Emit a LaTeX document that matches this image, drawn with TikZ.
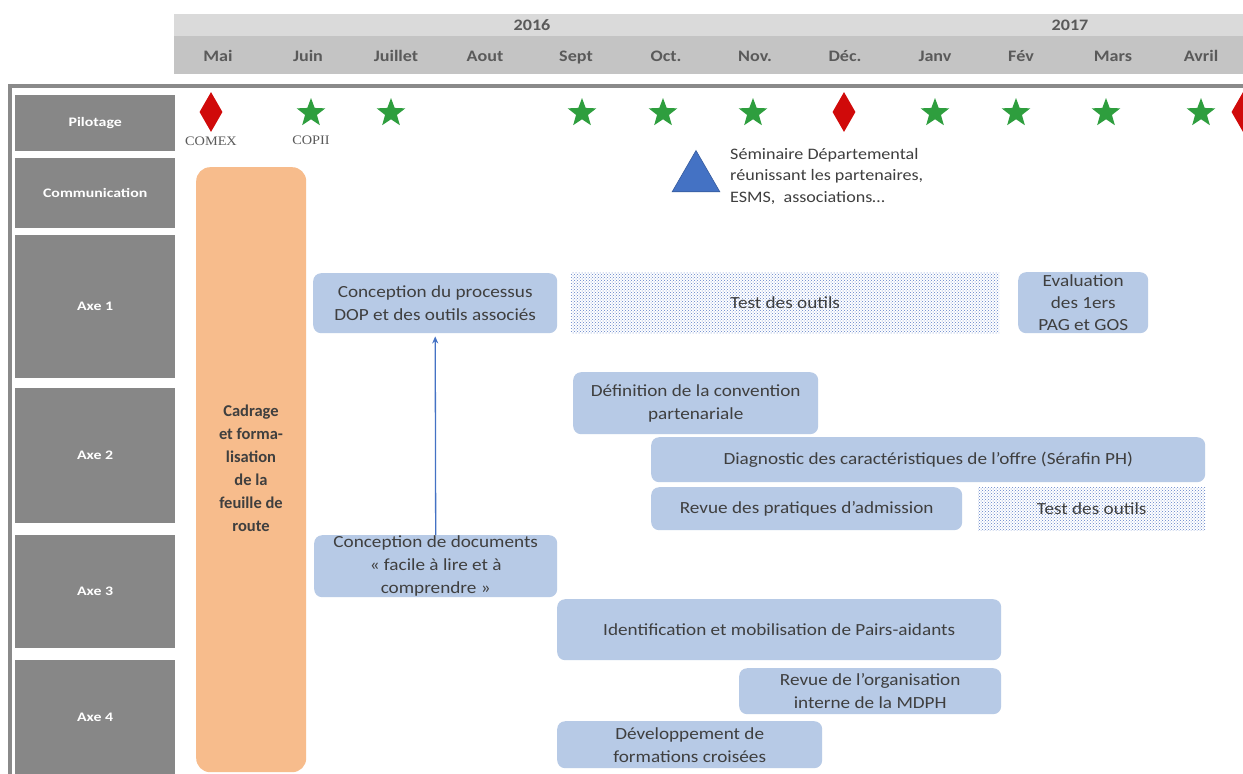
\documentclass[tikz,border=0pt]{standalone}
\usepackage{fontspec}
\setmainfont{Carlito}
\newfontfamily\widefont{Carlito}[FakeStretch=1.13]
\newfontfamily\lblfont{Carlito}[FakeStretch=1.22]
\newfontfamily\serifsmall{Liberation Serif}[FakeStretch=1.1]
\usetikzlibrary{shapes.geometric,arrows.meta,patterns}
\definecolor{yearbg}{HTML}{DADADA}
\definecolor{monthbg}{HTML}{C4C4C4}
\definecolor{monthtxt}{HTML}{5A5A5A}
\definecolor{rowlbl}{HTML}{878787}
\definecolor{frame}{HTML}{8A8A8A}
\definecolor{taskbg}{HTML}{B7CAE6}
\definecolor{tasktxt}{HTML}{3F3F3F}
\definecolor{orangebar}{HTML}{F7BC8C}
\definecolor{milestar}{HTML}{2E9E3E}
\definecolor{milered}{HTML}{D00A0A}
\definecolor{triblue}{HTML}{4472C4}
\definecolor{hatch}{HTML}{5F80C8}
\tikzset{
  month/.style={font=\widefont\bfseries\fontsize{16}{18}\selectfont, text=monthtxt, anchor=base},
  year/.style={font=\widefont\bfseries\fontsize{16}{18}\selectfont, text=monthtxt, anchor=base},
  rowlabel/.style={fill=rowlbl, text=white, font=\lblfont\bfseries\fontsize{13}{15}\selectfont,
    minimum width=160pt, inner sep=0pt, anchor=north west},
  task/.style={fill=taskbg, rounded corners=8pt, text=tasktxt, align=center,
    font=\widefont\fontsize{17}{23}\selectfont, inner sep=0pt, anchor=north west},
  testbox/.style={pattern=crosshatch dots, pattern color=hatch, text=tasktxt, align=center,
    font=\widefont\fontsize{17}{23}\selectfont, inner sep=0pt, anchor=north west},
  starmark/.style={star, star points=5, star point ratio=2.4, fill=milestar,
    minimum size=30pt, inner sep=0pt},
  diamark/.style={diamond, fill=milered, minimum width=23pt, minimum height=40pt, inner sep=0pt},
  milelabel/.style={font=\serifsmall\fontsize{13}{15}\selectfont, text=monthtxt},
  link/.style={draw=triblue, line width=1.3pt, -{Stealth[length=7pt,width=6pt]}}
}
\begin{document}
\begin{tikzpicture}[x=1pt,y=-1pt]
\useasboundingbox (0,0) rectangle (1243,774);
\fill[white] (0,0) rectangle (1243,774);

% timeline header
\fill[yearbg] (174,14) rectangle (1243,36);
\fill[monthbg] (174,36) rectangle (1243,74);
\node[year] (y2016) at (532,30) {2016};
\node[year] (y2017) at (1070,30) {2017};
\foreach \name/\x/\lbl in {mai/218/Mai, juin/308/Juin, juil/396/Juillet, aout/485/Aout,
  sept/576/Sept, oct/666/Oct., nov/755/Nov., dec/845/Déc., janv/935/Janv,
  fev/1021/Fév, mars/1113/Mars, avril/1201/Avril}
  \node[month] (m-\name) at (\x,61) {\lbl};

% outer frame
\draw[frame, line width=4pt] (10,774) -- (10,86) -- (1243,86);

% row labels
\node[rowlabel, minimum height=56pt] (r-pil) at (15,95) {Pilotage};
\node[rowlabel, minimum height=70pt] (r-com) at (15,158) {Communication};
\node[rowlabel, minimum height=143pt] (r-ax1) at (15,235) {Axe 1};
\node[rowlabel, minimum height=135pt] (r-ax2) at (15,388) {Axe 2};
\node[rowlabel, minimum height=113pt] (r-ax3) at (15,535) {Axe 3};
\node[rowlabel, minimum height=114pt] (r-ax4) at (15,660) {Axe 4};

% steering milestones
\node[diamark] (d1) at (211,112) {};
\node[starmark] (s1) at (311,113) {};
\node[starmark] (s2) at (391,113) {};
\node[starmark] (s3) at (582,113) {};
\node[starmark] (s4) at (663,113) {};
\node[starmark] (s5) at (753,113) {};
\node[diamark] (d2) at (844,112) {};
\node[starmark] (s6) at (935,113) {};
\node[starmark] (s7) at (1016,113) {};
\node[starmark] (s8) at (1106,113) {};
\node[starmark] (s9) at (1201,113) {};
\node[diamark] (d3) at (1243,112) {};
\node[milelabel] (comex) at (211,141) {COMEX};
\node[milelabel] (copil) at (311,140) {COPII};

% communication seminar
\node[regular polygon, regular polygon sides=3, minimum size=55pt, inner sep=0pt,
  fill=triblue, draw=triblue!80!black, line width=0.6pt] (sem) at (696,178) {};
\node[anchor=north west, align=left, text=tasktxt, font=\widefont\fontsize{16}{21.5}\selectfont,
  inner sep=0pt] (semtxt) at (730,148) {Séminaire Départemental\\réunissant les partenaires,\\ESMS,\ \ associations…};

% framing bar
\node[fill=orangebar, rounded corners=14pt, minimum width=110pt, minimum height=605pt,
  anchor=north west, inner sep=0pt] (cadre) at (196,167) {};
\node[text=tasktxt, align=center, font=\bfseries\fontsize{16.5}{23}\selectfont, anchor=north]
  (cadretxt) at (251,401) {Cadrage\\et forma-\\lisation\\de la\\feuille de\\route};

% tasks
\node[task, minimum width=244pt, minimum height=60pt] (dop) at (313,273)
  {Conception du processus\\DOP et des outils associés};
\node[testbox, minimum width=428pt, minimum height=61pt] (test1) at (571,272) {Test des outils};
\node[task, minimum width=130pt, minimum height=61pt, font=\widefont\fontsize{17}{22}\selectfont] (eval) at (1018,272)
  {Evaluation\\des 1ers\\PAG et GOS};
\node[task, minimum width=245pt, minimum height=62pt] (conv) at (573,372)
  {Définition de la convention\\partenariale};
\node[task, minimum width=554pt, minimum height=45pt] (diag) at (651,437)
  {Diagnostic des caractéristiques de l’offre (Sérafin PH)};
\node[task, minimum width=311pt, minimum height=43pt] (adm) at (651,487)
  {Revue des pratiques d’admission};
\node[testbox, minimum width=227pt, minimum height=43pt] (test2) at (978,487) {Test des outils};
\node[task, minimum width=243pt, minimum height=62pt] (doc) at (314,535)
  {Conception de documents\\« facile à lire et à\\comprendre »};
\node[task, minimum width=444pt, minimum height=61pt] (pairs) at (557,599)
  {Identification et mobilisation de Pairs-aidants};
\node[task, minimum width=262pt, minimum height=46pt] (orga) at (739,668)
  {Revue de l’organisation\\interne de la MDPH};
\node[task, minimum width=265pt, minimum height=47pt] (form) at (557,721)
  {Développement de\\formations croisées};

% dependency
\draw[link, shorten >=3pt] (doc.north) -- (dop.south);
\end{tikzpicture}
\end{document}
